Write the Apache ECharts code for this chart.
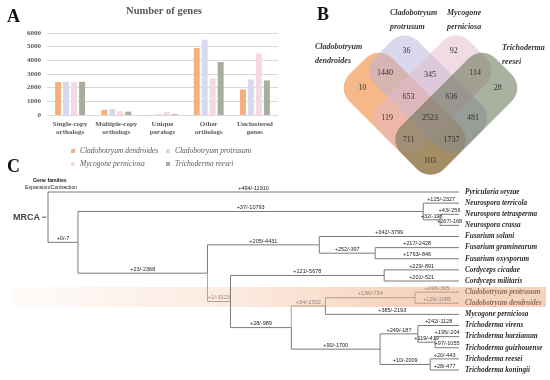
<!DOCTYPE html>
<html><head><meta charset="utf-8">
<script src="https://cdn.jsdelivr.net/npm/echarts/dist/echarts.min.js"></script>
<style>html,body{margin:0;padding:0;background:#fff}#c{width:550px;height:380px}</style>
</head><body><div id="c"></div>
<script>
// ---------- Panel A data ----------
const barCategories = ['Single-copy\northologs','Multiple-copy\northologs','Unique\nparalogs','Other\northologs','Unclustered\ngenes'];
const speciesNames = ['Cladobotryum dendroides','Cladobotryum protrusum','Mycogone perniciosa','Trichoderma reesei'];
const dendroidesCounts = [2410, 370, 10, 4900, 1870];
const protrusumCounts  = [2410, 440, 60, 5510, 2600];
const perniciosaCounts = [2410, 270, 230, 2680, 4490];
const reeseiCounts     = [2430, 245, 55, 3880, 2530];
const barColors = ['#f5b080','#d8d8ee','#f2d9e2','#a7af9c'];

// ---------- Panel B data ----------
const vennSetLabels = ['Cladobotryum\ndendroides','Cladobotryum\nprotrusum','Mycogone\nperniciosa','Trichoderma\nreesei'];
const vennRegionSets   = ['A','B','C','D','AB','BC','CD','AC','AD','BD','ABC','ABD','ACD','BCD','ABCD'];
const vennRegionCounts = [10, 36, 92, 28, 1440, 345, 114, 119, 103, 481, 653, 1737, 711, 636, 2523];

// ---------- Panel C data ----------
const treeNames = ['MRCA','Pyricularia oryzae','','','Neurospora terricola','','Neurospora tetrasperma','Neurospora crassa','','','Fusarium solani','','Fusarium graminearum','Fusarium oxysporum','','','Cordyceps cicadae','Cordyceps militaris','','','','Cladobotryum protrusum','Cladobotryum dendroides','Mycogone perniciosa','','','Trichoderma virens','','Trichoderma harzianum','Trichoderma guizhouense','','Trichoderma reesei','Trichoderma koningii'];
const treeParents = [-1,0,0,2,3,3,5,5,2,8,9,9,11,11,8,14,15,15,14,18,19,20,20,19,18,24,25,25,27,27,24,30,30];
const treeDepths  = [0,100,7.3,91.3,100,95.4,100,100,38.8,66.0,100,79.6,100,100,44.4,81.8,100,100,59.2,67.5,89.3,100,100,100,80.8,90.0,100,94.2,100,100,93.0,100,100];
const treeGains   = [null,494,0,37,125,32,43,267,23,205,342,252,217,1763,1,121,229,201,28,34,136,248,129,385,90,249,242,119,195,97,10,20,28];
const treeLosses  = [null,11910,7,10793,2327,198,256,168,2368,4431,3799,397,2428,846,3123,5678,891,521,989,2502,734,395,1085,2193,1700,187,1128,419,204,1055,2009,443,477];
const highlightedNodes = [14,19,20,21,22];

// ---------- layout config ----------
const SERIF = '"Liberation Serif","DejaVu Serif",serif';
const SANS = '"Liberation Sans","DejaVu Sans",Arial,sans-serif';
// Venn shapes as extents in rotated (s: down-right, t: up-right) grid units
const vennShapes = [[-2.9,1.5,-1.5,0.5],[-2.7,1.5,-0.5,1.5],[-1.5,0.5,-1.5,2.7],[-0.5,1.5,-1.5,2.9]];
const vennFills = ['rgba(237,112,20,0.5)','rgba(180,178,218,0.5)','rgba(228,186,204,0.5)','rgba(84,100,66,0.5)'];
const R2 = Math.SQRT2;

// region centroids from shape geometry
const acc = {};
for (let s = -4; s <= 4; s += 0.02) for (let t = -4; t <= 4; t += 0.02) {
  let key = '';
  vennShapes.forEach((e, k) => { if (s >= e[0] && s <= e[1] && t >= e[2] && t <= e[3]) key += 'ABCD'[k]; });
  if (!key) continue;
  if (!acc[key]) acc[key] = [0,0,0];
  acc[key][0] += s; acc[key][1] += t; acc[key][2]++;
}
const vennLabelData = vennRegionSets.map((k, i) => {
  const a = acc[k]; const s = a[0]/a[2], t = a[1]/a[2];
  return [(s+t)/R2, (s-t)/R2, vennRegionCounts[i]];
});
const vennShapeData = vennShapes.map((e, i) => {
  const sc = (e[0]+e[1])/2, tc = (e[2]+e[3])/2;
  return [(sc+tc)/R2, (sc-tc)/R2, i];
});

// tree layout
const kids = treeParents.map(() => []);
treeParents.forEach((p, i) => { if (p >= 0) kids[p].push(i); });
const nodeY = []; let leafIdx = 0;
(function walk(n){
  if (!kids[n].length) { nodeY[n] = leafIdx++; return; }
  kids[n].forEach(walk);
  const ys = kids[n].map(c => nodeY[c]);
  nodeY[n] = (Math.min(...ys) + Math.max(...ys)) / 2;
})(0);
const treeData = treeParents.map((p, i) => p < 0
  ? [treeDepths[i], nodeY[i], treeDepths[i], nodeY[i], i]
  : [treeDepths[p], nodeY[p], treeDepths[i], nodeY[i], i]);

const chart = echarts.init(document.getElementById('c'), null, {renderer: 'canvas'});

const legendCommon = {itemWidth: 4, itemHeight: 4, icon: 'rect', padding: 0, selectedMode: false,
  textStyle: {fontFamily: SERIF, fontStyle: 'italic', fontSize: 7.5, color: '#595959'}};

const option = {
  animation: false,
  backgroundColor: '#fff',
  graphic: [
    {type: 'rect', z: 0, silent: true, shape: {x: 13, y: 287, width: 533, height: 20},
     style: {fill: new echarts.graphic.LinearGradient(0,0,1,0,[
       {offset: 0, color: 'rgba(250,228,214,0.15)'},
       {offset: 0.45, color: 'rgba(249,222,205,0.7)'},
       {offset: 0.72, color: 'rgba(247,212,190,1)'},
       {offset: 1, color: 'rgba(247,210,188,1)'}])}},
    {type: 'text', x: 7, y: 8, style: {text: 'A', fontFamily: SERIF, fontWeight: 'bold', fontSize: 18, fill: '#111'}},
    {type: 'text', x: 317, y: 6, style: {text: 'B', fontFamily: SERIF, fontWeight: 'bold', fontSize: 18, fill: '#111'}},
    {type: 'text', x: 7, y: 158, style: {text: 'C', fontFamily: SERIF, fontWeight: 'bold', fontSize: 18, fill: '#111'}},
    {type: 'text', x: 164, y: 11, style: {text: 'Number of genes', align: 'center', verticalAlign: 'middle', fontFamily: SERIF, fontWeight: 'bold', fontSize: 10.5, fill: '#595959'}},
    {type: 'text', x: 33, y: 181, style: {text: 'Gene families', verticalAlign: 'middle', fontFamily: SANS, fontWeight: 'bold', fontSize: 5.2, fill: '#222'}},
    {type: 'text', x: 25, y: 188, style: {text: 'Expansion/Contraction', verticalAlign: 'middle', fontFamily: SANS, fontSize: 5.2, fill: '#222'}},
    {type: 'text', x: 315, y: 40, style: {text: vennSetLabels[0], lineHeight: 14, fontFamily: SERIF, fontWeight: 'bold', fontStyle: 'italic', fontSize: 8, fill: '#333'}},
    {type: 'text', x: 390, y: 6, style: {text: vennSetLabels[1], lineHeight: 14, fontFamily: SERIF, fontWeight: 'bold', fontStyle: 'italic', fontSize: 8, fill: '#333'}},
    {type: 'text', x: 447, y: 6, style: {text: vennSetLabels[2], lineHeight: 14, fontFamily: SERIF, fontWeight: 'bold', fontStyle: 'italic', fontSize: 8, fill: '#333'}},
    {type: 'text', x: 502, y: 41, style: {text: vennSetLabels[3], lineHeight: 14, fontFamily: SERIF, fontWeight: 'bold', fontStyle: 'italic', fontSize: 8, fill: '#333'}}
  ],
  legend: [
    Object.assign({data: [speciesNames[0]], left: 71, top: 147}, legendCommon),
    Object.assign({data: [speciesNames[1]], left: 166, top: 147}, legendCommon),
    Object.assign({data: [speciesNames[2]], left: 71, top: 160}, legendCommon),
    Object.assign({data: [speciesNames[3]], left: 166, top: 160}, legendCommon)
  ],
  grid: [
    {left: 47, top: 33, width: 231, height: 82},
    {left: 430.5 - 4*30.4, top: 118 - 3.8*30.4, width: 7.8*30.4, height: 6*30.4},
    {left: 48, top: 192, width: 411, height: 178}
  ],
  xAxis: [
    {type: 'category', gridIndex: 0, data: barCategories,
     axisTick: {show: false}, axisLine: {lineStyle: {color: '#d9d9d9'}},
     axisLabel: {fontFamily: SERIF, fontWeight: 'bold', fontSize: 7, color: '#595959', lineHeight: 8, margin: 5, interval: 0}},
    {type: 'value', gridIndex: 1, min: -4, max: 3.8, show: false},
    {type: 'value', gridIndex: 2, min: 0, max: 100, show: false}
  ],
  yAxis: [
    {type: 'value', gridIndex: 0, min: 0, max: 6000, interval: 1000,
     axisLine: {show: false}, axisTick: {show: false},
     splitLine: {lineStyle: {color: '#d9d9d9'}},
     axisLabel: {fontFamily: SERIF, fontWeight: 'bold', fontSize: 7, color: '#595959', margin: 6,
       formatter: function (v) { return String(v); }}},
    {type: 'value', gridIndex: 1, min: -3.8, max: 2.2, inverse: true, show: false},
    {type: 'value', gridIndex: 2, min: 0, max: 16, inverse: true, show: false}
  ],
  series: [
    ...[dendroidesCounts, protrusumCounts, perniciosaCounts, reeseiCounts].map((d, k) => ({
      type: 'bar', name: speciesNames[k], data: d, xAxisIndex: 0, yAxisIndex: 0,
      barWidth: 6, barGap: '33%', itemStyle: {color: barColors[k]}
    })),
    {
      type: 'custom', name: 'venn', xAxisIndex: 1, yAxisIndex: 1, z: 2, silent: true,
      data: vennShapeData,
      renderItem: function (params, api) {
        const i = api.value(2); const e = vennShapes[i];
        const p = api.coord([api.value(0), api.value(1)]);
        const unit = api.size([1, 1])[0];
        const w = (e[1]-e[0])*unit, h = (e[3]-e[2])*unit;
        return {type: 'rect', x: p[0], y: p[1], rotation: -Math.PI/4,
          shape: {x: -w/2, y: -h/2, width: w, height: h, r: 0.62*unit},
          style: {fill: vennFills[i]}};
      }
    },
    {
      type: 'custom', name: 'vennLabels', xAxisIndex: 1, yAxisIndex: 1, z: 3, silent: true,
      data: vennLabelData,
      renderItem: function (params, api) {
        const p = api.coord([api.value(0), api.value(1)]);
        return {type: 'text', x: p[0], y: p[1], style: {text: String(api.value(2)), align: 'center', verticalAlign: 'middle',
          fontFamily: SERIF, fontSize: 8, fill: '#333'}};
      }
    },
    {
      type: 'custom', name: 'tree', xAxisIndex: 2, yAxisIndex: 2, z: 3, silent: true, clip: false,
      data: treeData,
      renderItem: function (params, api) {
        const i = api.value(4);
        const hl = highlightedNodes.indexOf(i) >= 0;
        const p0 = api.coord([api.value(0), api.value(1)]);
        const p1 = api.coord([api.value(0), api.value(3)]);
        const p2 = api.coord([api.value(2), api.value(3)]);
        const out = [];
        if (treeParents[i] < 0) {
          out.push({type: 'line', shape: {x1: p2[0]-6, y1: p2[1], x2: p2[0]-1.5, y2: p2[1]}, style: {stroke: '#555', lineWidth: 1}});
          out.push({type: 'text', x: p2[0]-8, y: p2[1], style: {text: treeNames[i], align: 'right', verticalAlign: 'middle',
            fontFamily: SANS, fontWeight: 'bold', fontSize: 9, fill: '#444'}});
          return {type: 'group', children: out};
        }
        out.push({type: 'polyline', shape: {points: [p0, p1, p2]}, style: {stroke: hl ? '#b39f93' : '#7a7a7a', lineWidth: 1, fill: null}});
        out.push({type: 'text', x: (p1[0]+p2[0])/2, y: p2[1]-0.8, style: {text: '+' + treeGains[i] + '/-' + treeLosses[i],
          align: 'center', verticalAlign: 'bottom', fontFamily: SANS, fontSize: 5.5, fill: hl ? '#968279' : '#222'}});
        if (!kids[i].length) {
          out.push({type: 'text', x: p2[0]+6, y: p2[1], style: {text: treeNames[i], align: 'left', verticalAlign: 'middle',
            fontFamily: SERIF, fontWeight: 'bold', fontStyle: 'italic', fontSize: 7.2, fill: hl ? '#8a6f62' : '#2a2a2a'}});
        }
        return {type: 'group', children: out};
      }
    }
  ]
};
chart.setOption(option);
</script>
</body></html>
